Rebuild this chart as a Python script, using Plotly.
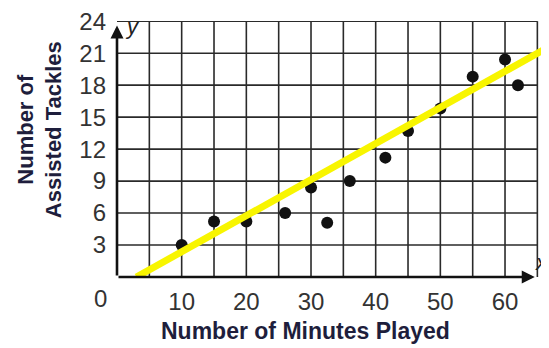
import plotly.graph_objects as go

# Data
minutes = [10, 15, 20, 26, 30, 32.5, 36, 41.5, 45, 50, 55, 60, 62]
tackles = [3.0, 5.2, 5.2, 6.0, 8.4, 5.1, 9.0, 11.2, 13.7, 15.8, 18.8, 20.4, 18.0]
fit_x = [3.0, 66.8]
fit_y = [0.0, 21.6]
x_ticks = [10, 20, 30, 40, 50, 60]
y_ticks = [3, 6, 9, 12, 15, 18, 21, 24]
x_grid = [5, 10, 15, 20, 25, 30, 35, 40, 45, 50, 55, 60, 65]
y_grid = [3, 6, 9, 12, 15, 18, 21, 24]

FONT = "Liberation Sans Narrow, Arial Narrow, Liberation Sans, Arial, sans-serif"
GRID = "#2a2a2a"

fig = go.Figure()
fig.add_trace(go.Scatter(x=minutes, y=tackles, mode="markers",
                         marker=dict(size=12, color="#111111"), cliponaxis=False))
fig.add_trace(go.Scatter(x=fit_x, y=fit_y, mode="lines",
                         line=dict(color="#f8f500", width=7), cliponaxis=False))

shapes = []
for gx in x_grid:
    shapes.append(dict(type="line", xref="x", yref="y", x0=gx, x1=gx, y0=0, y1=24,
                       line=dict(color=GRID, width=1.6), layer="below"))
for gy in y_grid:
    shapes.append(dict(type="line", xref="x", yref="y", x0=0, x1=65, y0=gy, y1=gy,
                       line=dict(color=GRID, width=1.6), layer="below"))

annotations = [
    # axes with arrows
    dict(x=64.6, y=0, ax=0, ay=0, xref="x", yref="y", axref="x", ayref="y",
         showarrow=True, arrowhead=2, arrowsize=1, arrowwidth=2.6, arrowcolor="#111111", text=""),
    dict(x=0, y=23.6, ax=0, ay=0, xref="x", yref="y", axref="x", ayref="y",
         showarrow=True, arrowhead=2, arrowsize=1, arrowwidth=2.6, arrowcolor="#111111", text=""),
    dict(x=0, y=0, xref="x", yref="y", text="0", showarrow=False, xshift=-17, yshift=-21,
         font=dict(family=FONT, size=24, color="#333333")),
    dict(x=0.9, y=23.5, xref="x", yref="y", text="<i>y</i>", showarrow=False, xanchor="left",
         font=dict(family=FONT, size=22, color="#222222")),
    dict(x=1.0, y=1.4, xref="paper", yref="y", text="<i>x</i>", showarrow=False, xanchor="right",
         borderpad=0, font=dict(family=FONT, size=22, color="#222222")),
    dict(x=(305 - 117) / 432, y=-(331 - 277) / 258, xref="paper", yref="paper",
         text="<b>Number of Minutes Played</b>",
         showarrow=False, yanchor="middle", xanchor="center",
         font=dict(family=FONT, size=23, color="#1e1e3c")),
    dict(x=-(117 - 40) / 432, y=(277 - 129) / 258, xref="paper", yref="paper",
         text="<b>Number of<br>Assisted Tackles</b>",
         showarrow=False, textangle=-90, xanchor="center", yanchor="middle",
         font=dict(family=FONT, size=22, color="#1e1e3c")),
]

fig.update_layout(
    width=541, height=340,
    margin=dict(l=109, r=0, t=11, b=71),
    plot_bgcolor="white", paper_bgcolor="white",
    showlegend=False,
    shapes=shapes, annotations=annotations,
    xaxis=dict(range=[0, 66.8], showgrid=False, zeroline=False, showline=False,
               tickvals=x_ticks, ticks="", ticklabelstandoff=8,
               tickfont=dict(family=FONT, size=24, color="#333333")),
    yaxis=dict(range=[0, 24.02], showgrid=False, zeroline=False, showline=False,
               tickvals=y_ticks, ticks="", ticklabelstandoff=10, ticklabeloverflow="allow",
               tickfont=dict(family=FONT, size=24, color="#333333")),
)

fig.write_html("out.html")
